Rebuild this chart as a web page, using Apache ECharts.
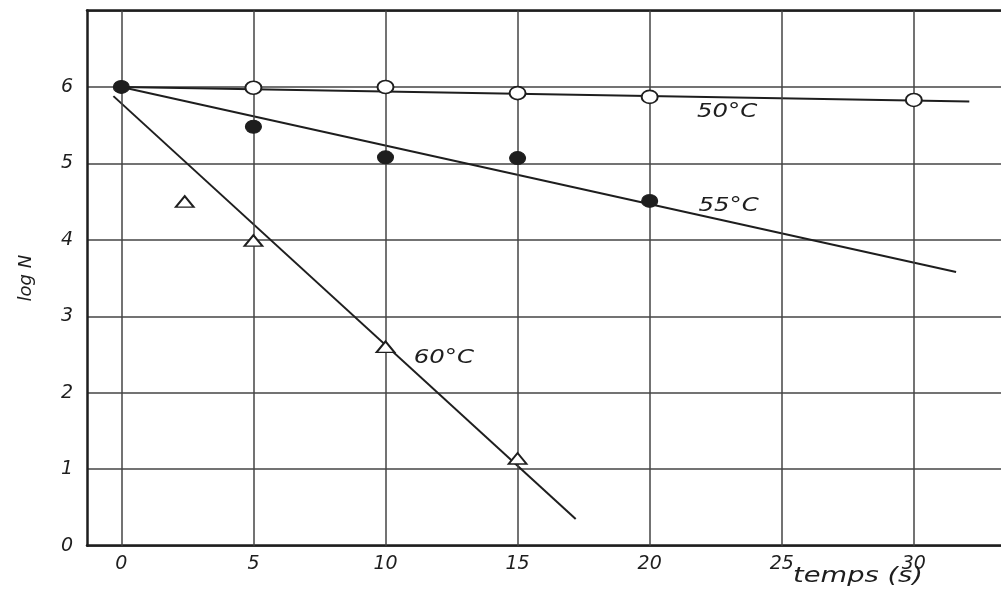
<!DOCTYPE html>
<html><head><meta charset="utf-8">
<script src="https://cdn.jsdelivr.net/npm/echarts@6/dist/echarts.min.js"></script>
<style>html,body{margin:0;padding:0;background:#fff}#c{width:1001px;height:589px}</style>
</head><body><div id="c"></div>
<script>
const xTicks = [0, 5, 10, 15, 20, 25, 30];
const yTicks = [0, 1, 2, 3, 4, 5, 6];
const s50 = [[5, 5.99], [10, 6.0], [15, 5.92], [20, 5.87], [30, 5.83]];
const s55 = [[0, 6.0], [5, 5.48], [10, 5.08], [15, 5.07], [20, 4.51]];
const s60 = [[2.4, 4.5], [5, 3.99], [10, 2.6], [15, 1.14]];
const fit50 = [[0, 6.0], [32.1, 5.81]];
const fit55 = [[0, 6.0], [31.6, 3.58]];
const fit60 = [[-0.3, 5.88], [17.2, 0.35]];
const seriesLabels = ['50°C', '55°C', '60°C'];
const labelCoords = [[22.93, 5.68], [22.99, 4.45], [12.21, 2.455]];
const ink = '#1e1e1e';
const fontFam = 'DejaVu Sans';
const chart = echarts.init(document.getElementById('c'));
const fitLine = (d) => ({
  type: 'line', data: d, symbol: 'none', silent: true,
  lineStyle: { color: ink, width: 2 }, z: 3
});
chart.setOption({
  backgroundColor: '#ffffff',
  animation: false,
  grid: { left: 87, right: 0, top: 10.5, bottom: 43.3 },
  xAxis: [{
    type: 'value', min: -1.3, max: 33.3,
    axisLine: { show: true, onZero: false, lineStyle: { color: ink, width: 2.5 } },
    axisTick: { show: false, customValues: xTicks },
    splitLine: { show: false },
    axisLabel: { customValues: xTicks, color: ink, fontSize: 19, fontStyle: 'italic', fontFamily: fontFam, margin: 9 }
  }, {
    type: 'value', position: 'top', min: -1.3, max: 33.3,
    axisLine: { show: true, onZero: false, lineStyle: { color: ink, width: 2.5 } },
    axisTick: { show: false }, axisLabel: { show: false }, splitLine: { show: false }
  }],
  yAxis: {
    type: 'value', min: 0, max: 7, interval: 1,
    axisLine: { show: true, onZero: false, lineStyle: { color: ink, width: 2.5 } },
    axisTick: { show: false },
    splitLine: { show: true, lineStyle: { color: '#444', width: 1.5 } },
    axisLabel: { color: ink, fontSize: 19, fontStyle: 'italic', fontFamily: fontFam, margin: 14,
      formatter: (v) => (yTicks.indexOf(v) >= 0 ? String(v) : '') },
    name: 'log N', nameLocation: 'middle', nameGap: 52, nameRotate: 90,
    nameTextStyle: { color: ink, fontSize: 18, fontStyle: 'italic', fontFamily: fontFam }
  },
  series: [
    {
      type: 'line', data: [], silent: true,
      markLine: {
        silent: true, symbol: 'none', label: { show: false },
        lineStyle: { color: '#444', width: 1.5, type: 'solid' },
        data: xTicks.map(v => ({ xAxis: v }))
      }
    },
    fitLine(fit50), fitLine(fit55), fitLine(fit60),
    { type: 'scatter', data: s50, symbol: 'circle', symbolSize: [16, 13], z: 5,
      itemStyle: { color: '#fff', borderColor: ink, borderWidth: 1.8, opacity: 1 } },
    { type: 'scatter', data: s55, symbol: 'circle', symbolSize: [16, 13], z: 5,
      itemStyle: { color: ink, borderColor: ink, borderWidth: 1, opacity: 1 } },
    { type: 'scatter', data: s60, symbol: 'triangle', symbolSize: [18, 11], z: 5,
      itemStyle: { color: '#fff', borderColor: ink, borderWidth: 1.8, opacity: 1 } }
  ]
});
const graphics = seriesLabels.map((t, i) => {
  const p = chart.convertToPixel({ gridIndex: 0 }, labelCoords[i]);
  return { type: 'text', x: p[0], y: p[1], scaleX: 1.22, z: 10,
    style: { text: t, fill: ink, font: 'italic 20px "DejaVu Sans"', align: 'center', verticalAlign: 'middle' } };
});
graphics.push({ type: 'text', x: 858, y: 577, scaleX: 1.3, z: 10,
  style: { text: 'temps (s)', fill: ink, font: 'italic 21px "DejaVu Sans"', align: 'center', verticalAlign: 'middle' } });
chart.setOption({ graphic: graphics });
</script></body></html>
